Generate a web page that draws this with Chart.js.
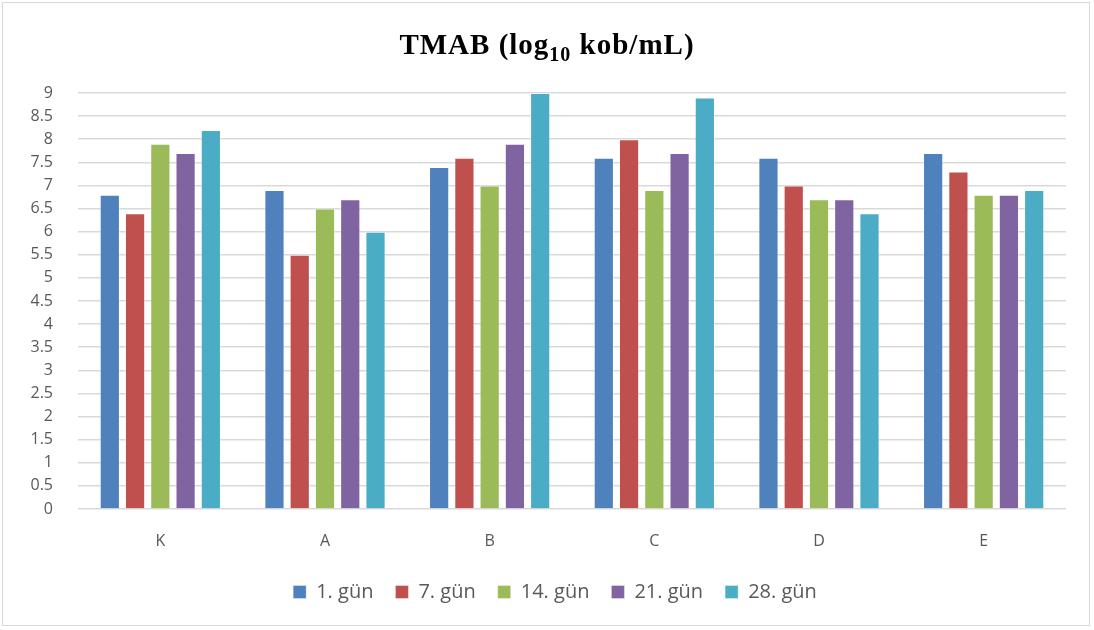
<!DOCTYPE html>
<html>
<head>
<meta charset="utf-8">
<script src="https://cdn.jsdelivr.net/npm/chart.js@4.4.1/dist/chart.umd.min.js"></script>
<style>
  body { margin: 0; background: #fff; }
  #wrap { position: relative; width: 1094px; height: 630px; }
  #frame { position: absolute; left: 2px; top: 2px; width: 1086px; height: 622px; border: 1px solid #d9d9d9; pointer-events: none; }
  #title {
    position: absolute; left: 0; top: 28px; width: 1094px; text-align: center; line-height: 32px;
    font-family: "Liberation Serif", "Times New Roman", serif; font-weight: bold; font-size: 29px; color: #000;
    letter-spacing: 1px;
  }
  #title sub { font-size: 20px; vertical-align: -7px; line-height: 0; }
  canvas { position: absolute; left: 0; top: 0; }
</style>
</head>
<body>
<div id="wrap">
  <canvas id="myChart" width="1094" height="630"></canvas>
  <div id="title">TMAB (log<sub>10</sub> kob/mL)</div>
  <div id="frame"></div>
</div>
<script>
// Kategoriler ve seriler
const categories = ['K', 'A', 'B', 'C', 'D', 'E'];
const seriesNames = ['1. gün', '7. gün', '14. gün', '21. gün', '28. gün'];

const day1 = [6.8, 6.9, 7.4, 7.6, 7.6, 7.7];
const day7 = [6.4, 5.5, 7.6, 8.0, 7.0, 7.3];
const day14 = [7.9, 6.5, 7.0, 6.9, 6.7, 6.8];
const day21 = [7.7, 6.7, 7.9, 7.7, 6.7, 6.8];
const day28 = [8.2, 6.0, 9.0, 8.9, 6.4, 6.9];

const seriesColors = ['#4f81bd', '#c0504d', '#9bbb59', '#8064a2', '#4bacc6'];

const ctx = document.getElementById('myChart').getContext('2d');

const allSeries = [day1, day7, day14, day21, day28];

const datasets = allSeries.map((values, i) => ({
  label: seriesNames[i],
  data: values,
  backgroundColor: seriesColors[i],
  borderColor: 'rgba(255,255,255,0.35)',
  borderWidth: 1,
  categoryPercentage: 0.767,
  barPercentage: 0.8
}));

const tickFont = { family: '"Open Sans", "Liberation Sans", sans-serif', size: 16 };

// Lejantı referanstaki gibi biraz sağa kaydır
const legendShift = {
  id: 'legendShift',
  afterLayout(chart) {
    chart.legend.left += 22;
    chart.legend.right += 22;
  }
};

new Chart(ctx, {
  type: 'bar',
  data: { labels: categories, datasets },
  plugins: [legendShift],
  options: {
    responsive: false,
    animation: false,
    layout: { padding: { top: 93, right: 28, bottom: 18, left: 0 } },
    plugins: {
      title: { display: false },
      tooltip: { enabled: false },
      legend: {
        position: 'bottom',
        labels: {
          boxWidth: 13,
          boxHeight: 13,
          padding: 22,
          color: '#595959',
          font: { family: '"Open Sans", "Liberation Sans", sans-serif', size: 20 }
        }
      }
    },
    scales: {
      x: {
        grid: { display: false },
        border: { display: false },
        afterFit: (scale) => { scale.height = 51; },
        ticks: {
          color: '#595959',
          padding: 15,
          font: tickFont
        }
      },
      y: {
        min: 0,
        max: 9,
        afterFit: (scale) => { scale.width = 78; },
        border: { display: false },
        grid: { color: '#d9d9d9', lineWidth: 1.5, drawTicks: false },
        ticks: {
          stepSize: 0.5,
          padding: 25,
          color: '#595959',
          font: tickFont,
          callback: (value) => String(value)
        }
      }
    }
  }
});
</script>
</body>
</html>
